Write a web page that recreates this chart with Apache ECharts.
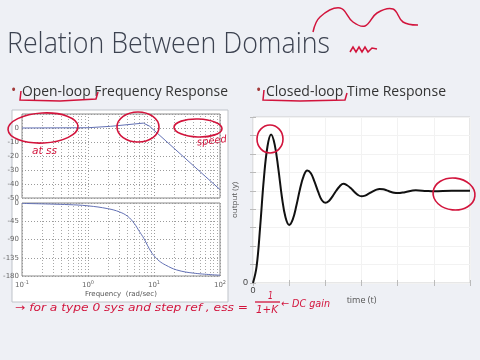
<!DOCTYPE html>
<html><head><meta charset="utf-8">
<script src="https://cdn.jsdelivr.net/npm/echarts@6/dist/echarts.min.js"></script>
<style>html,body{margin:0;padding:0;background:#eef0f5;}#c{width:480px;height:360px;}</style>
</head><body><div id="c"></div>
<script>
// ---- data ----
const magFreq = [0.1, 1, 2.2, 6.9, 8.5, 100];
const magDb   = [0, 0.2, 1.2, 3.5, 1.4, -44];
const phaseFreq = [0.1, 0.5, 1, 2, 3, 4, 5, 6, 7, 8, 9, 10, 12, 15, 22, 40, 100];
const phaseDeg  = [-1, -4, -7, -14, -22, -33, -50, -70, -87, -105, -120, -130, -143, -153, -165, -173, -178];
const stepT = [0, 0.1, 0.2, 0.3, 0.4, 0.5, 0.6, 0.7, 0.8, 0.9, 1.0, 1.1, 1.2, 1.3, 1.4, 1.5, 1.6, 1.7, 1.8, 1.9, 2.0,
  2.1, 2.2, 2.3, 2.4, 2.5, 2.6, 2.7, 2.8, 2.9, 3.0, 3.1, 3.2, 3.3, 3.4, 3.5, 3.6, 3.7, 3.8, 3.9, 4.0,
  4.2, 4.5, 4.8, 5.0, 5.5, 6.0];
const stepY = [0, 0.18, 0.62, 1.13, 1.48, 1.61, 1.5, 1.24, 0.93, 0.71, 0.63, 0.69, 0.84, 1.02, 1.16, 1.22, 1.19, 1.1, 0.99, 0.9, 0.87,
  0.89, 0.94, 1.0, 1.05, 1.076, 1.06, 1.03, 0.99, 0.955, 0.94, 0.948, 0.968, 0.99, 1.01, 1.02, 1.016, 1.004, 0.99, 0.979, 0.975,
  0.985, 1.005, 0.998, 0.995, 1.0, 1.0];
const minorFreqs = [0.2,0.3,0.4,0.5,0.6,0.7,0.8,0.9,2,3,4,5,6,7,8,9,20,30,40,50,60,70,80,90];
const magTicks = ['-50','-40','-30','-20','-10','0'];
const phaseTicks = ['-180','-135','-90','-45','0'];

const chart = echarts.init(document.getElementById('c'), null, {renderer:'canvas'});
const red = '#d2143c';
const meas = document.createElement('canvas').getContext('2d');
function fitText(text, font, x, y, width, fill, extra) {
  meas.font = font;
  const w = meas.measureText(text).width || width;
  return Object.assign({type:'text', x:x, y:y, scaleX: width / w,
    style:{text:text, font:font, fill:fill, align:'left', verticalAlign:'middle'}, z:50}, extra||{});
}
const dotted = {type:[1,2], color:'#9a9a9a', width:1};
const minorMark = {silent:true, symbol:'none', label:{show:false}, animation:false,
  lineStyle:{type:[1,2], color:'#a8a8a8', width:1},
  data: minorFreqs.map(f => ({xAxis:f}))};
const tickFont = {fontSize:7, color:'#666', fontFamily:'DejaVu Sans'};

const ell = (cx,cy,rx,ry,rot) => ({type:'ellipse', shape:{cx:0,cy:0,rx:rx,ry:ry}, x:cx, y:cy, rotation:rot||0, style:{fill:null, stroke:red, lineWidth:1.6}, z:60});
const pl = (pts, smooth) => ({type:'polyline', shape:{points:pts, smooth:smooth||0}, style:{fill:null, stroke:red, lineWidth:1.5}, z:60});
const hand = 'italic 10px "DejaVu Sans"';

const option = {
  animation:false,
  backgroundColor:'#eef0f5',
  grid:[
    {left:22, top:114, width:198, height:84, show:true, borderColor:'#8c8c8c', borderWidth:1, backgroundColor:'transparent'},
    {left:22, top:203, width:198, height:73, show:true, borderColor:'#8c8c8c', borderWidth:1, backgroundColor:'transparent'},
    {left:253, top:117, width:217, height:166, show:true, borderColor:'#cfcfcf', borderWidth:1, backgroundColor:'#ffffff'}
  ],
  xAxis:[
    {gridIndex:0, type:'log', logBase:10, min:0.1, max:100, axisLabel:{show:false}, axisLine:{show:false},
      axisTick:{show:false}, splitLine:{show:true, lineStyle:dotted}},
    {gridIndex:1, type:'log', logBase:10, min:0.1, max:100, axisLine:{show:false}, axisTick:{show:false},
      splitLine:{show:true, lineStyle:dotted},
      axisLabel:Object.assign({margin:4, formatter: v => '10{s|' + Math.round(Math.log10(v)) + '}',
        rich:{s:{fontSize:5, color:'#666', verticalAlign:'top', padding:[0,0,5,0]}}}, tickFont),
      name:'Frequency  (rad/sec)', nameLocation:'middle', nameGap:15, nameTextStyle:{fontSize:7, color:'#555', fontFamily:'DejaVu Sans'}},
    {gridIndex:2, type:'value', min:0, max:6, interval:1, axisLine:{show:false},
      axisTick:{show:true, inside:true, length:3, lineStyle:{color:'#bbb'}},
      splitLine:{show:true, lineStyle:{color:'#f2f2f2'}},
      axisLabel:{fontSize:9, color:'#444', margin:3, formatter: v => v === 0 ? '0' : ''},
      name:'time (t)', nameLocation:'middle', nameGap:12,
      nameTextStyle:{fontSize:9, color:'#555', fontFamily:'Open Sans'}},
    {gridIndex:2, type:'value', position:'top', min:0, max:6, interval:1, axisLine:{show:false},
      axisTick:{show:true, inside:true, length:3, lineStyle:{color:'#bbb'}},
      splitLine:{show:false}, axisLabel:{show:false}}
  ],
  yAxis:[
    {gridIndex:0, type:'value', min:-50, max:10, interval:10, axisLine:{show:false}, axisTick:{show:false},
      splitLine:{show:true, lineStyle:dotted},
      axisLabel:Object.assign({margin:3, formatter: v => magTicks.indexOf(String(v)) >= 0 ? String(v) : ''}, tickFont)},
    {gridIndex:1, type:'value', min:-180, max:0, interval:45, axisLine:{show:false}, axisTick:{show:false},
      splitLine:{show:true, lineStyle:dotted},
      axisLabel:Object.assign({margin:3, formatter: v => phaseTicks.indexOf(String(v)) >= 0 ? String(v) : ''}, tickFont)},
    {gridIndex:2, type:'value', min:0, max:1.8, interval:0.2, axisLine:{show:false},
      axisTick:{show:true, inside:true, length:3, lineStyle:{color:'#bbb'}},
      splitLine:{show:true, lineStyle:{color:'#f2f2f2'}},
      axisLabel:{fontSize:9, color:'#444', margin:5, formatter: v => v === 0 ? '0' : ''},
      name:'output (y)', nameLocation:'middle', nameGap:1, nameRotate:90,
      nameTextStyle:{fontSize:8, color:'#555', fontFamily:'Open Sans'}},
    {gridIndex:2, type:'value', position:'right', min:0, max:1.8, interval:0.2, axisLine:{show:false},
      axisTick:{show:true, inside:true, length:3, lineStyle:{color:'#bbb'}},
      splitLine:{show:false}, axisLabel:{show:false}}
  ],
  series:[
    {type:'line', xAxisIndex:0, yAxisIndex:0, data: magFreq.map((f,i)=>[f, magDb[i]]), showSymbol:false,
      lineStyle:{color:'#6270b4', width:1}, markLine:minorMark, z:5},
    {type:'line', xAxisIndex:1, yAxisIndex:1, data: phaseFreq.map((f,i)=>[f, phaseDeg[i]]), showSymbol:false, smooth:0.4,
      lineStyle:{color:'#6270b4', width:1}, markLine:minorMark, z:5},
    {type:'line', xAxisIndex:2, yAxisIndex:2, data: stepT.map((t,i)=>[t, stepY[i]]), showSymbol:false, smooth:0.4,
      lineStyle:{color:'#111', width:2}, z:5}
  ],
  graphic:[
    {type:'rect', shape:{x:12, y:110, width:216, height:192}, style:{fill:'#ffffff', stroke:'#bfc3c9', lineWidth:1}, z:-10},
    fitText('Relation Between Domains', '300 29px "Open Sans"', 7, 45, 323, '#3c4250'),
    {type:'text', x:11, y:91, style:{text:'•', font:'14px "Open Sans"', fill:'#a33a3a', verticalAlign:'middle'}, z:50},
    fitText('Open-loop Frequency Response', '14px "Open Sans"', 22, 92, 206, '#333'),
    {type:'text', x:256, y:91, style:{text:'•', font:'14px "Open Sans"', fill:'#a33a3a', verticalAlign:'middle'}, z:50},
    fitText('Closed-loop Time Response', '14px "Open Sans"', 266, 92, 180, '#333'),
    // hand-drawn annotations
    ell(43,128,35,15,0.05), ell(138,127,21,15,0), ell(198,128,24,9,-0.03),
    ell(270,139,13,14,0), ell(454,194,21,16,-0.1),
    fitText('at ss', hand, 32, 151, 25, red),
    fitText('speed', hand, 197, 143, 30, red, {rotation:0.12}),
    pl([[21,91],[20,100],[60,101],[96,99],[98,92]]),
    pl([[264,90],[263,100],[300,101],[345,100],[347,93]]),
    pl([[313,32],[320,17],[340,8],[353,22],[365,26],[377,13],[393,9],[403,22],[418,25]], 0.4),
    pl([[350,52],[353,47],[356,52],[359,47],[362,52],[365,47],[368,52],[372,48],[377,49]]),
    fitText('→ for a type 0 sys and step ref , ess =', hand, 15, 308, 233, red),
    fitText('1', hand, 268, 296, 5, red),
    {type:'line', shape:{x1:255, y1:302, x2:280, y2:302}, style:{stroke:red, lineWidth:1.3}, z:60},
    fitText('1+K', hand, 256, 310, 22, red),
    fitText('← DC gain', hand, 281, 304, 49, red)
  ]
};
chart.setOption(option);
</script></body></html>
